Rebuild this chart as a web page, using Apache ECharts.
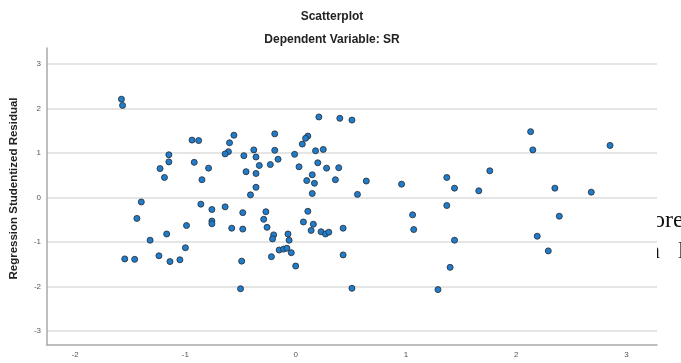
<!DOCTYPE html>
<html><head><meta charset="utf-8">
<script src="https://cdn.jsdelivr.net/npm/echarts@6/dist/echarts.min.js"></script>
<style>html,body{margin:0;padding:0;background:#fff}#c{width:681px;height:363px}</style>
</head><body><div id="c"></div>
<script>
const titleText = 'Scatterplot';
const subtitleText = 'Dependent Variable: SR';
const yAxisName = 'Regression Studentized Residual';
const xTicks = [-2, -1, 0, 1, 2, 3];
const yTicks = [-3, -2, -1, 0, 1, 2, 3];
const predicted = [
  -1.58, -1.57, -0.94, -0.88, -1.15, -1.15, -1.23, -1.19, -0.92, -1.40,
  -1.44, -0.99, -1.17, -1.32, -1.00, -1.55, -1.46, -1.24, -1.14, -1.05,
  -0.79, -0.85, -0.56, -0.60, -0.61, -0.64, -0.47, -0.38, -0.36, -0.33,
  -0.45, -0.36, -0.36, -0.41, -0.19, -0.19, -0.23, -0.16, -0.86, -0.76,
  -0.64, -0.76, -0.76, -0.48, -0.58, -0.48, -0.27, -0.29, -0.26, -0.20,
  -0.21, -0.15, -0.22, -0.49, -0.50, 0.21, 0.40, 0.51, 0.11, 0.09,
  0.06, -0.01, 0.18, 0.25, 0.03, 0.20, 0.28, 0.39, 0.15, 0.10,
  0.17, 0.36, 0.15, 0.56, 0.11, 0.07, 0.16, 0.14, 0.23, 0.27,
  0.30, 0.43, -0.07, -0.06, -0.11, -0.08, -0.04, 0.00, 0.43, 0.51,
  0.64, 0.96, 1.06, 1.07, 1.29, 1.37, 1.44, 1.66, 1.37, 1.44,
  1.40, 1.76, 2.13, 2.15, 2.85, 2.35, 2.68, 2.39, 2.19, 2.29
];
const residual = [
  2.21, 2.07, 1.29, 1.28, 0.96, 0.80, 0.65, 0.45, 0.79, -0.10,
  -0.47, -0.63, -0.82, -0.96, -1.13, -1.38, -1.39, -1.31, -1.44, -1.40,
  0.66, 0.40, 1.40, 1.23, 1.03, 0.98, 0.94, 1.07, 0.91, 0.72,
  0.58, 0.54, 0.23, 0.06, 1.43, 1.06, 0.74, 0.86, -0.15, -0.27,
  -0.21, -0.53, -0.59, -0.34, -0.69, -0.71, -0.32, -0.49, -0.67, -0.84,
  -0.93, -1.18, -1.33, -1.43, -2.05, 1.81, 1.78, 1.74, 1.38, 1.33,
  1.20, 0.97, 1.05, 1.08, 0.69, 0.78, 0.66, 0.67, 0.51, 0.38,
  0.32, 0.40, 0.09, 0.07, -0.31, -0.55, -0.60, -0.74, -0.77, -0.82,
  -0.78, -0.69, -0.82, -0.96, -1.16, -1.14, -1.24, -1.54, -1.29, -2.04,
  0.37, 0.30, -0.39, -0.72, -2.07, 0.45, 0.21, 0.15, -0.18, -0.96,
  -1.57, 0.60, 1.48, 1.07, 1.17, 0.21, 0.12, -0.42, -0.87, -1.20
];
const backgroundWords = ['ore', 'n   l'];

const points = predicted.map((x, i) => [x, residual[i]]);
const isTick = (list) => (v) => {
  const r = Math.round(v);
  return Math.abs(v - r) < 1e-6 && list.indexOf(r) >= 0 ? String(r) : '';
};

const chart = echarts.init(document.getElementById('c'), null, {renderer: 'canvas'});
chart.setOption({
  animation: false,
  backgroundColor: '#fff',
  grid: {left: 47, right: 24, top: 48, bottom: 18, show: true, backgroundColor: '#fff', borderWidth: 0},
  graphic: [
    {type: 'text', x: 332, y: 17, z: 10,
     style: {text: titleText, font: 'bold 12px "Liberation Sans", Arial, sans-serif', fill: '#222', align: 'center', verticalAlign: 'middle'}},
    {type: 'text', x: 332, y: 40, z: 10,
     style: {text: subtitleText, font: 'bold 12px "Liberation Sans", Arial, sans-serif', fill: '#222', align: 'center', verticalAlign: 'middle'}},
    {type: 'text', x: 14, y: 188.5, rotation: Math.PI / 2, z: 10,
     style: {text: yAxisName, font: 'bold 11.5px "Liberation Sans", Arial, sans-serif', fill: '#222', align: 'center', verticalAlign: 'middle'}},
    {type: 'text', x: 653, y: 221, z: -10,
     style: {text: backgroundWords[0], font: '24px "Liberation Serif", serif', fill: '#111', align: 'left', verticalAlign: 'middle'}},
    {type: 'text', x: 648, y: 252, z: -10,
     style: {text: backgroundWords[1], font: '24px "Liberation Serif", serif', fill: '#111', align: 'left', verticalAlign: 'middle'}}
  ],
  xAxis: {
    type: 'value', min: -2.255, max: 3.276, splitNumber: 6,
    axisLine: {show: true, onZero: false, lineStyle: {color: '#a8a8a8', width: 1.5}},
    axisTick: {show: false},
    splitLine: {show: false},
    axisLabel: {fontSize: 8, color: '#555', margin: 6, fontFamily: '"Liberation Sans", Arial, sans-serif', formatter: isTick(xTicks)}
  },
  yAxis: {
    type: 'value', min: -3.315, max: 3.36, splitNumber: 7,
    axisLine: {show: true, onZero: false, lineStyle: {color: '#a8a8a8', width: 1.5}},
    axisTick: {show: false},
    splitLine: {show: true, showMinLine: false, showMaxLine: false, lineStyle: {color: '#dcdcdc', width: 1.5}},
    axisLabel: {fontSize: 8, color: '#555', margin: 6, fontFamily: '"Liberation Sans", Arial, sans-serif', formatter: isTick(yTicks)}
  },
  series: [{
    type: 'scatter',
    data: points,
    symbol: 'circle',
    symbolSize: 6,
    itemStyle: {color: '#1f7dcc', borderColor: '#2b3440', borderWidth: 0.9, opacity: 1}
  }]
});
</script>
</body></html>
